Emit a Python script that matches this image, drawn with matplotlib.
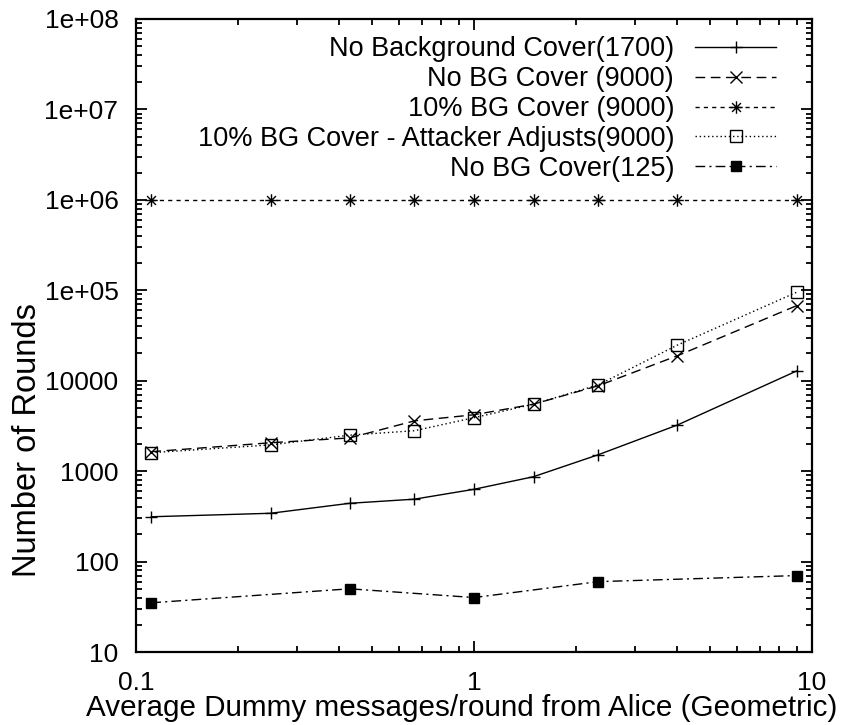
import matplotlib
matplotlib.use("Agg")
import matplotlib.pyplot as plt
from matplotlib.path import Path
from matplotlib.ticker import FixedLocator, FixedFormatter, LogLocator, NullFormatter

plt.rcParams['font.family'] = ['Liberation Sans', 'DejaVu Sans']

# Average dummy messages per round (geometric mean p/(1-p))
x_vals = [0.111, 0.25, 0.4286, 0.6667, 1.0, 1.5, 2.333, 4.0, 9.0]

no_bg_1700 = [313, 342, 441, 490, 630, 868, 1520, 3240, 12800]
no_bg_9000 = [1640, 2060, 2330, 3600, 4200, 5500, 8800, 18900, 67500]
bg10_9000 = [1e6, 1e6, 1e6, 1e6, 1e6, 1e6, 1e6, 1e6, 1e6]
bg10_adjust_9000 = [1600, 1950, 2500, 2800, 3900, 5500, 9000, 24800, 95000]

x_125 = [0.111, 0.4286, 1.0, 2.333, 9.0]
no_bg_125 = [35, 50, 40, 60, 70]

labels = [
    "No Background Cover(1700)",
    "No BG Cover (9000)",
    "10% BG Cover (9000)",
    "10% BG Cover - Attacker Adjusts(9000)",
    "No BG Cover(125)",
]

y_ticks = [10, 100, 1000, 10000, 1e5, 1e6, 1e7, 1e8]
y_ticklabels = ["10", "100", "1000", "10000", "1e+05", "1e+06", "1e+07", "1e+08"]
x_ticks = [0.1, 1, 10]
x_ticklabels = ["0.1", "1", "10"]

# asterisk marker: plus and cross strokes together
r = 0.7071
asterisk = Path(
    [(-1, 0), (1, 0), (0, -1), (0, 1), (-r, -r), (r, r), (-r, r), (r, -r)],
    [Path.MOVETO, Path.LINETO] * 4,
)

fig = plt.figure(figsize=(8.42, 7.25), dpi=100)
ax = fig.add_axes([136 / 842, 1 - 652 / 725, 676 / 842, 633 / 725])
ax.set_xscale("log")
ax.set_yscale("log")

lw = 1.0
ax.plot(x_vals, no_bg_1700, color="black", lw=lw, ls="-", marker="+",
        ms=9, mew=1.0, label=labels[0])
ax.plot(x_vals, no_bg_9000, color="black", lw=lw, ls=(0, (7, 4)), marker="x",
        ms=8, mew=1.0, label=labels[1])
ax.plot(x_vals, bg10_9000, color="black", lw=lw, ls=(0, (3, 3)), marker=asterisk,
        ms=9, mew=1.0, label=labels[2])
ax.plot(x_vals, bg10_adjust_9000, color="black", lw=lw, ls=(0, (1, 2)), marker="s",
        ms=8, mew=1.0, mfc="none", label=labels[3])
ax.plot(x_125, no_bg_125, color="black", lw=lw, ls=(0, (7, 3, 1.5, 3)), marker="s",
        ms=7.5, mew=1.0, mfc="black", label=labels[4])

ax.set_xlim(0.1, 10)
ax.set_ylim(10, 1e8)

ax.xaxis.set_major_locator(FixedLocator(x_ticks))
ax.xaxis.set_major_formatter(FixedFormatter(x_ticklabels))
ax.xaxis.set_minor_locator(LogLocator(base=10, subs=range(2, 10), numticks=20))
ax.xaxis.set_minor_formatter(NullFormatter())
ax.yaxis.set_major_locator(FixedLocator(y_ticks))
ax.yaxis.set_major_formatter(FixedFormatter(y_ticklabels))
ax.yaxis.set_minor_locator(LogLocator(base=10, subs=range(2, 10), numticks=20))
ax.yaxis.set_minor_formatter(NullFormatter())

for side in ax.spines.values():
    side.set_linewidth(1.6)
ax.tick_params(which="both", direction="in", top=True, right=True, width=1.3)
ax.tick_params(which="major", length=8, labelsize=19)
ax.tick_params(which="minor", length=4.5)
ax.tick_params(axis="x", which="major", pad=14)
ax.tick_params(axis="y", which="major", pad=12.6)

ax.set_xlabel("Average Dummy messages/round from Alice (Geometric)", fontsize=21.3)
ax.xaxis.set_label_coords(0.482, -0.1011, transform=ax.transAxes)
ax.xaxis.label.set_va("baseline")
ax.set_ylabel("Number of Rounds", fontsize=23.5)
ax.yaxis.set_label_coords(-0.137, 0.335)

ax.legend(loc="upper right", bbox_to_anchor=(0.947, 0.9724), frameon=False,
          markerfirst=False, fontsize=19.5, handlelength=3.0, handletextpad=0.77,
          labelspacing=0.14, borderpad=0.0, borderaxespad=0.0)

fig.savefig("out.png", dpi=100)
